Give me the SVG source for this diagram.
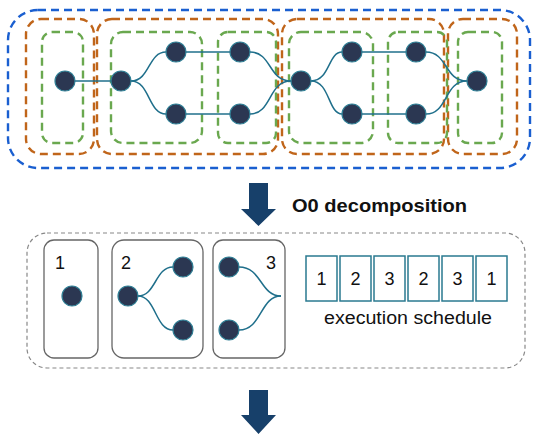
<svg xmlns="http://www.w3.org/2000/svg" width="542" height="437" viewBox="0 0 542 437">
<style>
.blue{fill:none;stroke:#1a5fd0;stroke-width:2.4;stroke-dasharray:8 5}
.orange{fill:none;stroke:#c0651a;stroke-width:2.4;stroke-dasharray:8 5}
.green{fill:none;stroke:#6aa84f;stroke-width:2.4;stroke-dasharray:8 5}
.node{fill:#2b3752;stroke:#2f7f95;stroke-width:1.2}
.edge{fill:none;stroke:#1f6f8b;stroke-width:1.5}
.box{fill:none;stroke:#666;stroke-width:1.3}
.sched{fill:#fff;stroke:#2a7a90;stroke-width:1.5}
.lbl{font-family:"Liberation Sans",Arial,sans-serif;font-size:18px;fill:#111}
.arrow{fill:#17406a}
</style>
<rect width="542" height="437" fill="#fff"/>
<g id="groups">
<rect class="blue" x="8" y="10" width="522" height="158" rx="30"/>
<rect class="orange" x="26" y="19" width="68" height="135" rx="15"/>
<rect class="orange" x="97" y="19" width="181" height="135" rx="15"/>
<rect class="orange" x="282" y="19" width="162" height="135" rx="15"/>
<rect class="orange" x="448" y="19" width="69" height="135" rx="15"/>
<rect class="green" x="42" y="32" width="41" height="111" rx="10"/>
<rect class="green" x="111" y="32" width="91" height="111" rx="12"/>
<rect class="green" x="218" y="32" width="58" height="111" rx="10"/>
<rect class="green" x="289" y="32" width="84" height="111" rx="12"/>
<rect class="green" x="388" y="32" width="59" height="111" rx="10"/>
<rect class="green" x="458" y="32" width="44" height="111" rx="10"/>
</g>
<g id="connectors">
<path class="edge" d="M75,81 L111,81"/>
<path class="edge" d="M131,81 C150,81 148,52 166,52"/>
<path class="edge" d="M131,81 C150,81 148,114 166,114"/>
<path class="edge" d="M186,52 L230,52"/>
<path class="edge" d="M186,114 L230,114"/>
<path class="edge" d="M250,52 C272,52 268,81 291,81"/>
<path class="edge" d="M250,114 C272,114 268,81 291,81"/>
<path class="edge" d="M311,81 C330,81 328,52 342,52"/>
<path class="edge" d="M311,81 C330,81 328,114 342,114"/>
<path class="edge" d="M362,52 L406,52"/>
<path class="edge" d="M362,114 L406,114"/>
<path class="edge" d="M426,52 C448,52 444,81 467,81"/>
<path class="edge" d="M426,114 C448,114 444,81 467,81"/>
<path class="edge" d="M138,296 C156,296 155,267 173,267"/>
<path class="edge" d="M138,296 C156,296 155,330 173,330"/>
<path class="edge" d="M239,267 C262,267 260,296 281,296"/>
<path class="edge" d="M239,330 C262,330 260,296 281,296"/>
</g>
<g id="nodes-top">
<circle id="n1" class="node" cx="65" cy="81" r="10"/>
<circle id="n2" class="node" cx="121" cy="81" r="10"/>
<circle id="n3" class="node" cx="176" cy="52" r="10"/>
<circle id="n4" class="node" cx="176" cy="114" r="10"/>
<circle id="n5" class="node" cx="240" cy="52" r="10"/>
<circle id="n6" class="node" cx="240" cy="114" r="10"/>
<circle id="n7" class="node" cx="301" cy="81" r="10"/>
<circle id="n8" class="node" cx="352" cy="52" r="10"/>
<circle id="n9" class="node" cx="352" cy="114" r="10"/>
<circle id="n10" class="node" cx="416" cy="52" r="10"/>
<circle id="n11" class="node" cx="416" cy="114" r="10"/>
<circle id="n12" class="node" cx="477" cy="81" r="10"/>
</g>
<g id="arrow1">
<path class="arrow" d="M249,183 H268 V209 H276 L258.5,226 L241,209 H249 Z"/>
</g>
<text x="292" y="212" font-family="'Liberation Sans',Arial,sans-serif" font-size="18" font-weight="bold" fill="#111" textLength="175" lengthAdjust="spacingAndGlyphs">O0 decomposition</text>
<g id="decomposition">
<rect x="27" y="233" width="498" height="135" rx="20" fill="none" stroke="#888" stroke-width="1.2" stroke-dasharray="4 3"/>
</g>
<g id="sub1">
<rect class="box" x="44" y="240" width="54" height="118" rx="10"/>
<text class="lbl" x="55" y="269">1</text>
<circle class="node" cx="72" cy="296" r="10"/>
</g>
<g id="sub2">
<rect class="box" x="112" y="240" width="91" height="118" rx="12"/>
<text class="lbl" x="121" y="269">2</text>
<circle class="node" cx="128" cy="296" r="10"/>
<circle class="node" cx="183" cy="267" r="10"/>
<circle class="node" cx="183" cy="330" r="10"/>
</g>
<g id="sub3">
<rect class="box" x="213" y="240" width="72" height="118" rx="10"/>
<text class="lbl" x="266" y="269">3</text>
<circle class="node" cx="229" cy="267" r="10"/>
<circle class="node" cx="229" cy="330" r="10"/>
</g>
<g id="schedule">
<rect class="sched" x="306" y="256" width="31" height="45"/>
<rect class="sched" x="340" y="256" width="31" height="45"/>
<rect class="sched" x="374" y="256" width="31" height="45"/>
<rect class="sched" x="408" y="256" width="31" height="45"/>
<rect class="sched" x="442" y="256" width="31" height="45"/>
<rect class="sched" x="476" y="256" width="31" height="45"/>
<g class="lbl" text-anchor="middle">
<text x="321.5" y="285">1</text>
<text x="355.5" y="285">2</text>
<text x="389.5" y="285">3</text>
<text x="423.5" y="285">2</text>
<text x="457.5" y="285">3</text>
<text x="491.5" y="285">1</text>
</g>
<text class="lbl" x="324" y="324" textLength="168" lengthAdjust="spacingAndGlyphs">execution schedule</text>
</g>
<g id="arrow2">
<path class="arrow" d="M249,390 H268 V415 H276 L258.5,434 L241,415 H249 Z"/>
</g>
</svg>
